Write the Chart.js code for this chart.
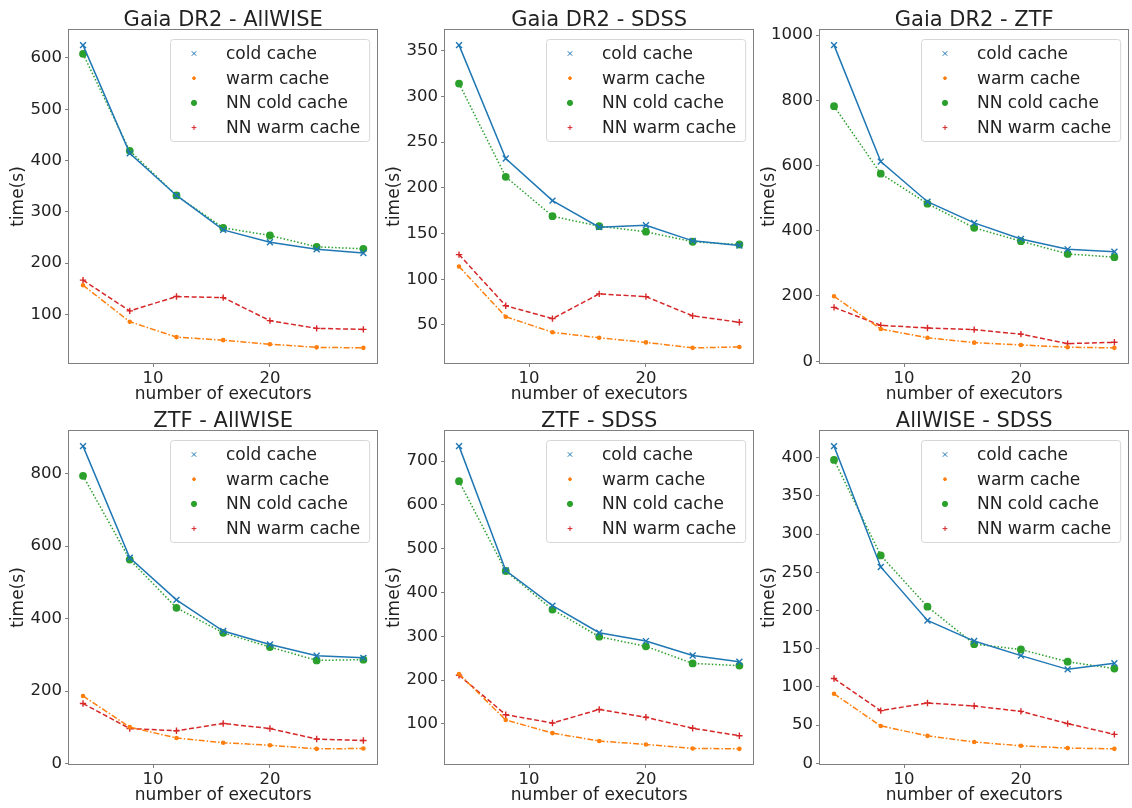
<!DOCTYPE html>
<html>
<head>
<meta charset="utf-8">
<title>time vs number of executors</title>
<script src="https://cdn.jsdelivr.net/npm/chart.js@4.4.0/dist/chart.umd.min.js"></script>
<style>
  body { margin: 0; background: #fff; width: 1132px; height: 808px; overflow: hidden; position: relative; }
  canvas { position: absolute; }
</style>
</head>
<body>
<canvas id="c0"></canvas>
<canvas id="c1"></canvas>
<canvas id="c2"></canvas>
<canvas id="c3"></canvas>
<canvas id="c4"></canvas>
<canvas id="c5"></canvas>
<script>
const executors = [4, 8, 12, 16, 20, 24, 28];
const panelTitles = ['Gaia DR2 - AllWISE', 'Gaia DR2 - SDSS', 'Gaia DR2 - ZTF',
                     'ZTF - AllWISE', 'ZTF - SDSS', 'AllWISE - SDSS'];
const xTickStep = 10;
const yTickSteps = [100, 50, 200, 200, 100, 50];
const seriesLabels = ['cold cache', 'warm cache', 'NN cold cache', 'NN warm cache'];

// one row per panel, same order as panelTitles
const coldCache = [
  [625, 414, 332, 265, 241, 227, 220],
  [356, 232, 186, 157, 159, 142, 137],
  [969, 612, 489, 424, 375, 343, 336],
  [876, 568, 452, 366, 329, 298, 292],
  [734, 450, 370, 308, 289, 256, 242],
  [415, 257, 187, 160, 141, 123, 131]
];
const warmCache = [
  [157, 86, 56, 50, 42, 36, 35],
  [114, 59, 42, 36, 31, 25, 26],
  [199, 99, 72, 57, 50, 43, 41],
  [187, 101, 71, 58, 51, 41, 42],
  [214, 109, 79, 61, 53, 44, 43],
  [91, 49, 36, 28, 23, 20, 19]
];
const nnColdCache = [
  [608, 419, 332, 269, 254, 232, 228],
  [314, 212, 169, 158, 152, 141, 138],
  [782, 575, 483, 409, 368, 329, 319],
  [794, 563, 430, 361, 322, 285, 287],
  [654, 449, 361, 299, 277, 238, 233],
  [397, 272, 205, 156, 149, 133, 124]
];
const nnWarmCache = [
  [167, 107, 135, 133, 88, 73, 71],
  [127, 71, 57, 84, 81, 60, 53],
  [165, 110, 102, 97, 83, 54, 58],
  [166, 97, 91, 111, 97, 68, 64],
  [211, 121, 102, 133, 115, 90, 73],
  [111, 69, 79, 75, 68, 52, 38]
];

// styles (matplotlib tab10)
const styles = [
  { color: '#1f77b4', pointStyle: 'crossRot', radius: 4.2, dash: [], legendR: 3.2 },
  { color: '#ff7f0e', pointStyle: 'circle', radius: 1.6, dash: [6, 2, 1.5, 2], legendR: 1.4 },
  { color: '#2ca02c', pointStyle: 'circle', radius: 3.2, dash: [1.5, 2], legendR: 2.6 },
  { color: '#d62728', pointStyle: 'cross', radius: 3.2, dash: [5, 2.5], legendR: 2.4 }
];

const FONT = '"DejaVu Sans", sans-serif';
const TEXT = '#222';
const SPINE = '#808080';

// matplotlib-ish 5% margins
function padRange(vals) {
  const lo = Math.min(...vals), hi = Math.max(...vals);
  const m = (hi - lo) * 0.05;
  return [lo - m, hi + m];
}

// ticks on multiples of step inside the axis range
function stepTicks(step) {
  return scale => {
    const out = [];
    for (let v = Math.ceil(scale.min / step) * step; v <= scale.max; v += step) out.push({ value: v });
    scale.ticks = out;
  };
}

const frameAndLegend = {
  id: 'frameAndLegend',
  afterDraw(chart) {
    const { ctx, chartArea: a } = chart;
    ctx.save();
    ctx.strokeStyle = SPINE;
    ctx.lineWidth = 1;
    ctx.strokeRect(Math.round(a.left) - 0.5, Math.round(a.top) - 0.5,
                   Math.round(a.right - a.left) + 1, Math.round(a.bottom - a.top) + 1);

    // title centred over the plot area
    ctx.font = '21px ' + FONT;
    ctx.fillStyle = TEXT;
    ctx.textAlign = 'center';
    ctx.textBaseline = 'alphabetic';
    ctx.fillText(chart.options.panelTitle, (a.left + a.right) / 2, a.top - 4);

    ctx.font = '17px ' + FONT;
    const ds = chart.data.datasets;
    const textW = Math.max(...ds.map(d => ctx.measureText(d.label).width));
    const w = 56 + textW + 9, h = 102;
    const x = Math.round(a.right - 8 - w), y = Math.round(a.top + 9);
    ctx.beginPath();
    ctx.roundRect(x + 0.5, y + 0.5, w, h, 3);
    ctx.fillStyle = 'rgba(255,255,255,0.85)';
    ctx.fill();
    ctx.strokeStyle = '#d6d6d6';
    ctx.stroke();
    ds.forEach((d, i) => {
      const cy = y + 14.5 + i * 24.7;
      const st = styles[i];
      ctx.fillStyle = st.color;
      ctx.strokeStyle = st.color;
      ctx.setLineDash([]);
      Chart.helpers.drawPoint(ctx, { pointStyle: st.pointStyle, radius: st.legendR, borderWidth: 1.3, rotation: 0 }, x + 24, cy);
      ctx.fillStyle = TEXT;
      ctx.textBaseline = 'middle';
      ctx.textAlign = 'left';
      ctx.fillText(d.label, x + 56, cy + 1);
    });
    ctx.restore();
  }
};

const lefts = [0, 376, 751];
const tops = [0, 401];
const CW = 383, CH = 405;
const [xMin, xMax] = padRange(executors);
const plainNumber = v => String(v);

panelTitles.forEach((title, p) => {
  const cv = document.getElementById('c' + p);
  cv.width = CW; cv.height = CH;
  cv.style.left = lefts[p % 3] + 'px';
  cv.style.top = tops[Math.floor(p / 3)] + 'px';
  cv.style.width = CW + 'px'; cv.style.height = CH + 'px';

  const seriesData = [coldCache[p], warmCache[p], nnColdCache[p], nnWarmCache[p]];
  const [yMin, yMax] = padRange(seriesData.flat());

  const datasets = seriesData.map((vals, i) => ({
    label: seriesLabels[i],
    data: vals.map((v, k) => ({ x: executors[k], y: v })),
    borderColor: styles[i].color,
    backgroundColor: styles[i].color,
    borderWidth: 1.5,
    borderDash: styles[i].dash,
    pointStyle: styles[i].pointStyle,
    pointRadius: styles[i].radius,
    pointBorderWidth: 1.4,
    pointBackgroundColor: styles[i].color,
    pointBorderColor: styles[i].color,
    tension: 0,
    fill: false
  }));

  new Chart(cv, {
    type: 'line',
    data: { datasets },
    options: {
      panelTitle: title,
      responsive: false,
      animation: false,
      devicePixelRatio: 1,
      layout: { padding: { left: 0, right: 2, top: 30, bottom: 0 } },
      plugins: {
        legend: { display: false },
        tooltip: { enabled: false },
        title: { display: false }
      },
      scales: {
        x: {
          type: 'linear', min: xMin, max: xMax,
          afterBuildTicks: stepTicks(xTickStep),
          ticks: { color: TEXT, padding: 2, font: { family: FONT, size: 16.5 }, callback: plainNumber },
          grid: { drawOnChartArea: false, drawTicks: true, tickLength: 4, tickColor: SPINE },
          border: { display: false },
          title: { display: true, text: 'number of executors', color: TEXT,
                   font: { family: FONT, size: 17, lineHeight: 1.2 }, padding: { top: 0, bottom: 0 } },
          afterFit: s => { s.height = 42; }
        },
        y: {
          type: 'linear', min: yMin, max: yMax,
          afterBuildTicks: stepTicks(yTickSteps[p]),
          ticks: { color: TEXT, padding: 3, font: { family: FONT, size: 16.5 }, callback: plainNumber },
          grid: { drawOnChartArea: false, drawTicks: true, tickLength: 4, tickColor: SPINE },
          border: { display: false },
          title: { display: true, text: 'time(s)', color: TEXT,
                   font: { family: FONT, size: 17, lineHeight: 1.2 }, padding: { top: 8, bottom: 0 } },
          afterFit: s => { s.width = 69; }
        }
      }
    },
    plugins: [frameAndLegend]
  });
});
</script>
</body>
</html>
